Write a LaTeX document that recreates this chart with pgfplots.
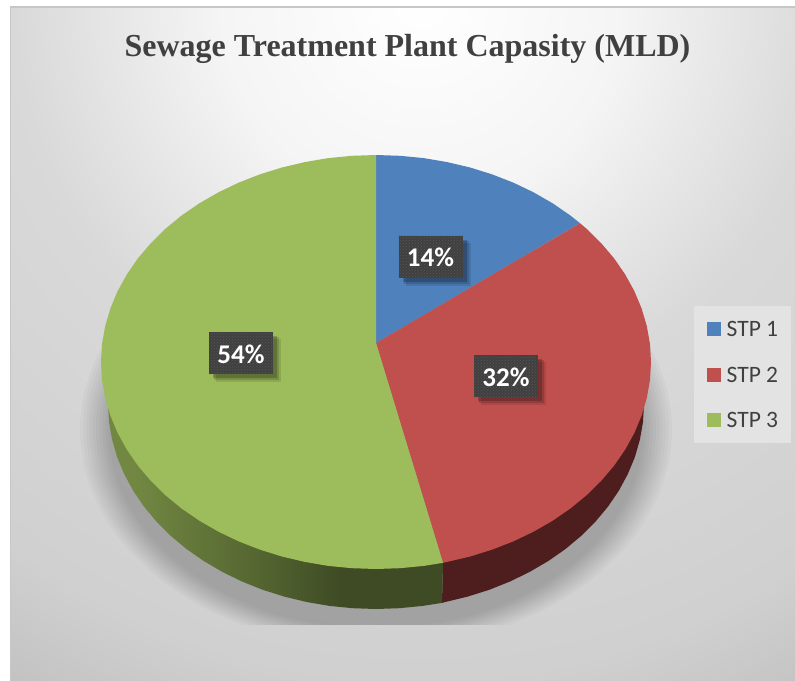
\documentclass[border=0pt]{standalone}
\usepackage{pgfplots}
\usepackage{fontspec}
\pgfplotsset{compat=1.18}
\usetikzlibrary{patterns}
\setmainfont{Carlito}
\newfontfamily\titlefont{Liberation Serif}
\definecolor{stpA}{HTML}{4F81BD}
\definecolor{stpB}{HTML}{C0504D}
\definecolor{stpC}{HTML}{9DBC5B}
\definecolor{txt}{HTML}{404040}
\definecolor{redwall}{HTML}{4D1E1D}
% radial background: 25bp = 1000pt
\pgfdeclareradialshading{bgshade}{\pgfpoint{0bp}{0bp}}{%
  color(0bp)=(white);
  color(5bp)=(white!96!black);
  color(10.2bp)=(black!15);
  color(17bp)=(black!18.5);
  color(20bp)=(black!24);
  color(50bp)=(black!24)}
\pgfdeclarehorizontalshading{greenwall}{100bp}{%
  color(0bp)=(stpC!72!black);
  color(25bp)=(stpC!72!black);
  color(30bp)=(stpC!72!black);
  color(38bp)=(stpC!64!black);
  color(47bp)=(stpC!55!black);
  color(54bp)=(stpC!47!black);
  color(60bp)=(stpC!40!black);
  color(75bp)=(stpC!40!black);
  color(100bp)=(stpC!40!black)}
\newcommand{\lbl}[3]{%
  \fill[black,opacity=.10] ([xshift=7pt,yshift=-7pt]axis cs:#1-32,#2-21) rectangle ([xshift=8pt,yshift=-8pt]axis cs:#1+32,#2+21);
  \fill[black,opacity=.14] ([xshift=5pt,yshift=-5pt]axis cs:#1-32,#2-21) rectangle ([xshift=6pt,yshift=-6pt]axis cs:#1+32,#2+21);
  \fill[black,opacity=.20] ([xshift=4pt,yshift=-4pt]axis cs:#1-32,#2-21) rectangle ([xshift=4pt,yshift=-4pt]axis cs:#1+32,#2+21);
  \node[fill=txt,minimum width=64pt,minimum height=42pt,inner sep=0pt,
    postaction={pattern=crosshatch dots,pattern color=white!12!txt}] at (axis cs:#1,#2) {};
  \node[text=white,inner sep=0pt,yshift=-1pt] at (axis cs:#1,#2) {\fontsize{27}{32}\selectfont\bfseries #3};
}
\begin{document}
\begin{tikzpicture}[x=1pt,y=1pt]
\path[use as bounding box] (0,0) rectangle (795,680);
% chart area background
\begin{scope}
  \clip (10,0) rectangle (795,673);
  \shade[shading=bgshade] (420,680) circle (1000);
  \draw[black!22,line width=1.5pt] (10,0) -- (10,673) -- (795,673);
  \begin{scope}
    \clip (0,55) rectangle (795,680);
    \foreach \k in {0,1,...,9}{%
      \pgfmathsetmacro{\rx}{296-3.2*\k}
      \pgfmathsetmacro{\ry}{218-2.2*\k}
      \fill[black,opacity=.022] (376,250) ellipse [x radius=\rx,y radius=\ry];
    }
  \end{scope}
\end{scope}
\begin{axis}[
  at={(0,0)},anchor=south west,
  scale only axis,width=795pt,height=680pt,
  xmin=0,xmax=795,ymin=0,ymax=680,y dir=reverse,
  hide axis,clip=false,
  legend cell align=left,
  legend style={
    at={(axis cs:694,306)},anchor=north west,
    fill=black!11,draw=none,
    inner xsep=12.5pt,inner ysep=15.5pt,
    /tikz/every odd column/.style={column sep=6pt},
    row sep=30pt,
    font=\fontsize{23.5}{26}\selectfont\color{txt},
    nodes={inner sep=0pt,text depth=0pt}
  },
  legend image code/.code={\fill[#1] (0pt,-7pt) rectangle (14pt,7pt);},
]
% side walls
\addplot[forget plot,draw=none,fill=redwall] coordinates {
 (651,362)(644,404)(643,421.9)(639.9,439.6)(634.9,457.1)(627.8,474.1)(618.9,490.6)(608.1,506.5)(595.5,521.6)(581.3,535.8)(565.5,549)(548.3,561)(529.7,571.9)(510,581.5)(489.3,589.8)(467.7,596.6)(445.4,602)(442,602.9)(443,562.8)(500,400)} -- cycle;
\addplot[forget plot,draw=none,shading=greenwall] coordinates {
 (443,562.8)(442,602.9)(422.5,605.9)(399.4,608.2)(376,609)(352.6,608.2)(329.5,605.9)(306.6,602)(284.3,596.6)(262.7,589.8)(242,581.5)(222.3,571.9)(203.7,561)(186.5,549)(170.7,535.8)(156.5,521.6)(143.9,506.5)(133.1,490.6)(124.2,474.1)(117.1,457.1)(112.1,439.6)(109,421.9)(108,404)(101,362)(376,362)} -- cycle;
% top faces
\addplot[draw=none,fill=stpA] coordinates {
 (376,343)(376,155)(400,155.8)(423.8,158.1)(447.2,162.1)(470.1,167.5)(492.2,174.4)(513.5,182.7)(533.7,192.4)(552.8,203.4)(570.5,215.6)(580,223.2)} -- cycle;
\addlegendentry{STP 1}
\addplot[draw=none,fill=stpB] coordinates {
 (376,343)(580,223.2)(586.7,228.9)(601.3,243.3)(614.2,258.5)(625.2,274.5)(634.4,291.2)(641.6,308.4)(646.8,326.1)(650,344)(651,362)(650,380)(646.8,397.9)(641.6,415.6)(634.4,432.8)(625.2,449.5)(614.2,465.5)(601.3,480.7)(586.7,495.1)(570.5,508.4)(552.8,520.6)(533.7,531.6)(513.5,541.3)(492.2,549.6)(470.1,556.5)(447.2,561.9)(443,562.8)} -- cycle;
\addlegendentry{STP 2}
\addplot[draw=none,fill=stpC] coordinates {
 (376,343)(443,562.8)(423.8,565.9)(400,568.2)(376,569)(352,568.2)(328.2,565.9)(304.8,561.9)(281.9,556.5)(259.8,549.6)(238.5,541.3)(218.3,531.6)(199.2,520.6)(181.5,508.4)(165.3,495.1)(150.7,480.7)(137.8,465.5)(126.8,449.5)(117.6,432.8)(110.4,415.6)(105.2,397.9)(102,380)(101,362)(102,344)(105.2,326.1)(110.4,308.4)(117.6,291.2)(126.8,274.5)(137.8,258.5)(150.7,243.3)(165.3,228.9)(181.5,215.6)(199.2,203.4)(218.3,192.4)(238.5,182.7)(259.8,174.4)(281.9,167.5)(304.8,162.1)(328.2,158.1)(352,155.8)(376,155)} -- cycle;
\addlegendentry{STP 3}
\lbl{430.5}{256.5}{14\%}
\lbl{506}{376}{32\%}
\lbl{241}{353}{54\%}
\node[text=txt,inner sep=0pt] at (axis cs:407.5,48.5) {\titlefont\bfseries\fontsize{32}{36}\selectfont Sewage Treatment Plant Capasity (MLD)};
\end{axis}
\end{tikzpicture}
\end{document}
